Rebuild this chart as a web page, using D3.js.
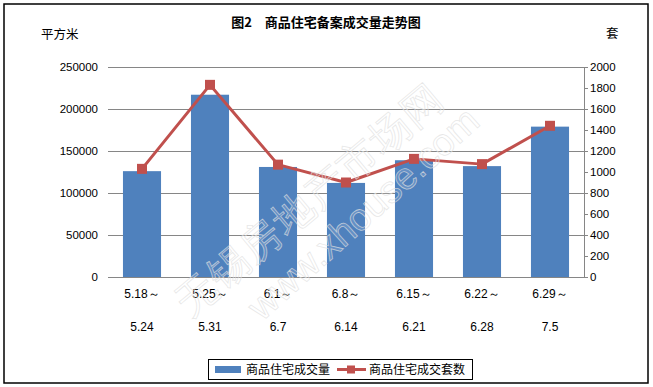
<!DOCTYPE html>
<meta charset="utf-8">
<script src="https://d3js.org/d3.v7.min.js"></script>
<style>
  body { margin: 0; background: #fff; }
  text { font-family: "Liberation Sans", Arial, sans-serif; }
  .cjk { font-family: "Noto Sans CJK SC", sans-serif; }
</style>
<div id="chart"></div>
<script>

// data
var periodStart = ["5.18～", "5.25～", "6.1～", "6.8～", "6.15～", "6.22～", "6.29～"];
var periodEnd = ["5.24", "5.31", "6.7", "6.14", "6.21", "6.28", "7.5"];
var areaValues = [126000, 217000, 131000, 112000, 139000, 132000, 179000];   // 平方米
var unitValues = [1030, 1830, 1070, 900, 1125, 1075, 1440];                  // 套
var leftTicks = [0, 50000, 100000, 150000, 200000, 250000];
var rightTicks = [0, 200, 400, 600, 800, 1000, 1200, 1400, 1600, 1800, 2000];

var W = 653, H = 387;
var pLeft = 108, pRight = 584, pTop = 67, pBottom = 277;

var svg = d3.select("#chart")
  .append("svg")
    .attr("width", W)
    .attr("height", H);

// outer frame
svg.append("rect")
  .attr("x", 4).attr("y", 4)
  .attr("width", 644).attr("height", 379)
  .attr("fill", "white")
  .attr("stroke", "black")
  .attr("stroke-width", 1.5);

var x = d3.scaleBand()
  .domain(d3.range(periodStart.length))
  .range([pLeft, pRight])
  .paddingInner(0.44)
  .paddingOuter(0.22);

var yL = d3.scaleLinear().domain([0, 250000]).range([pBottom, pTop]);
var yR = d3.scaleLinear().domain([0, 2000]).range([pBottom, pTop]);

// gridlines
svg.append("g")
  .selectAll("line")
  .data(leftTicks)
  .enter()
  .append("line")
    .attr("x1", pLeft).attr("x2", pRight)
    .attr("y1", function(d) { return Math.round(yL(d)) + 0.5; })
    .attr("y2", function(d) { return Math.round(yL(d)) + 0.5; })
    .attr("stroke", "#868686")
    .attr("stroke-width", 1);

// left tick labels
svg.append("g")
  .selectAll("text")
  .data(leftTicks)
  .enter()
  .append("text")
    .attr("x", 98)
    .attr("y", function(d) { return yL(d) + 4; })
    .attr("text-anchor", "end")
    .style("font-size", "11.5px")
    .text(function(d) { return d; });

// right axis
var rAxis = svg.append("g");
rAxis.append("line")
  .attr("x1", pRight + 0.5).attr("x2", pRight + 0.5)
  .attr("y1", pTop).attr("y2", pBottom + 0.5)
  .attr("stroke", "#868686");
rAxis.selectAll(".tick")
  .data(rightTicks)
  .enter()
  .append("line")
    .attr("x1", pRight).attr("x2", pRight + 4)
    .attr("y1", function(d) { return Math.round(yR(d)) + 0.5; })
    .attr("y2", function(d) { return Math.round(yR(d)) + 0.5; })
    .attr("stroke", "#868686");
rAxis.selectAll("text")
  .data(rightTicks)
  .enter()
  .append("text")
    .attr("x", 590)
    .attr("y", function(d) { return yR(d) + 4; })
    .style("font-size", "11.5px")
    .text(function(d) { return d; });

// bars
svg.append("g")
  .selectAll("rect")
  .data(areaValues)
  .enter()
  .append("rect")
    .attr("x", function(d, i) { return x(i); })
    .attr("width", x.bandwidth())
    .attr("y", function(d) { return yL(d); })
    .attr("height", function(d) { return pBottom - yL(d); })
    .attr("fill", "#4f81bd");

// line + markers
var line = d3.line()
  .x(function(d, i) { return x(i) + x.bandwidth() / 2; })
  .y(function(d) { return yR(d); });

svg.append("path")
  .datum(unitValues)
  .attr("d", line)
  .attr("fill", "none")
  .attr("stroke", "#c0504d")
  .attr("stroke-width", 3)
  .attr("stroke-linejoin", "round");

svg.append("g")
  .selectAll("rect")
  .data(unitValues)
  .enter()
  .append("rect")
    .attr("x", function(d, i) { return x(i) + x.bandwidth() / 2 - 5; })
    .attr("y", function(d) { return yR(d) - 5; })
    .attr("width", 10).attr("height", 10)
    .attr("fill", "#c0504d");

// category labels (two lines)
var cat = svg.append("g").attr("class", "cjk").style("font-size", "12px");
cat.selectAll(".l1")
  .data(periodStart)
  .enter()
  .append("text")
    .attr("x", function(d, i) { return x(i) + x.bandwidth() / 2; })
    .attr("y", 298)
    .attr("text-anchor", "middle")
    .text(function(d) { return d; });
cat.selectAll(".l2")
  .data(periodEnd)
  .enter()
  .append("text")
    .attr("x", function(d, i) { return x(i) + x.bandwidth() / 2; })
    .attr("y", 331)
    .attr("text-anchor", "middle")
    .text(function(d) { return d; });

// watermark (faint outlined text)
var wm = svg.append("g")
  .attr("class", "cjk")
  .attr("fill", "white")
  .attr("fill-opacity", 0.12)
  .attr("stroke", "#e0e0e0")
  .attr("stroke-opacity", 0.75)
  .attr("stroke-width", 0.8);
wm.append("text")
  .attr("transform", "translate(190,318) rotate(-40)")
  .style("font-size", "40px")
  .style("font-weight", "300")
  .style("letter-spacing", "2px")
  .text("无锡房地产市场网");
wm.append("text")
  .attr("transform", "translate(262,322) rotate(-42)")
  .style("font-size", "38px")
  .style("font-family", "Liberation Sans, sans-serif")
  .text("www.xhouse.com");

// titles
svg.append("text")
  .attr("class", "cjk")
  .attr("x", 326).attr("y", 27)
  .attr("text-anchor", "middle")
  .style("font-size", "13px")
  .style("font-weight", "bold")
  .text("图2　商品住宅备案成交量走势图");
svg.append("text")
  .attr("class", "cjk")
  .attr("x", 41).attr("y", 39)
  .style("font-size", "12.5px")
  .text("平方米");
svg.append("text")
  .attr("class", "cjk")
  .attr("x", 606).attr("y", 38)
  .style("font-size", "12.5px")
  .text("套");

// legend
var lg = svg.append("g");
lg.append("rect")
  .attr("x", 208.5).attr("y", 359.5)
  .attr("width", 264).attr("height", 20)
  .attr("fill", "white")
  .attr("stroke", "black");
lg.append("rect")
  .attr("x", 215).attr("y", 366)
  .attr("width", 26).attr("height", 7)
  .attr("fill", "#4f81bd");
lg.append("text")
  .attr("class", "cjk")
  .attr("x", 246).attr("y", 374)
  .style("font-size", "12px")
  .text("商品住宅成交量");
lg.append("line")
  .attr("x1", 337).attr("x2", 366)
  .attr("y1", 369.5).attr("y2", 369.5)
  .attr("stroke", "#c0504d").attr("stroke-width", 3);
lg.append("rect")
  .attr("x", 347).attr("y", 365.5)
  .attr("width", 8).attr("height", 8)
  .attr("fill", "#c0504d");
lg.append("text")
  .attr("class", "cjk")
  .attr("x", 369).attr("y", 374)
  .style("font-size", "12px")
  .text("商品住宅成交套数");
</script>
